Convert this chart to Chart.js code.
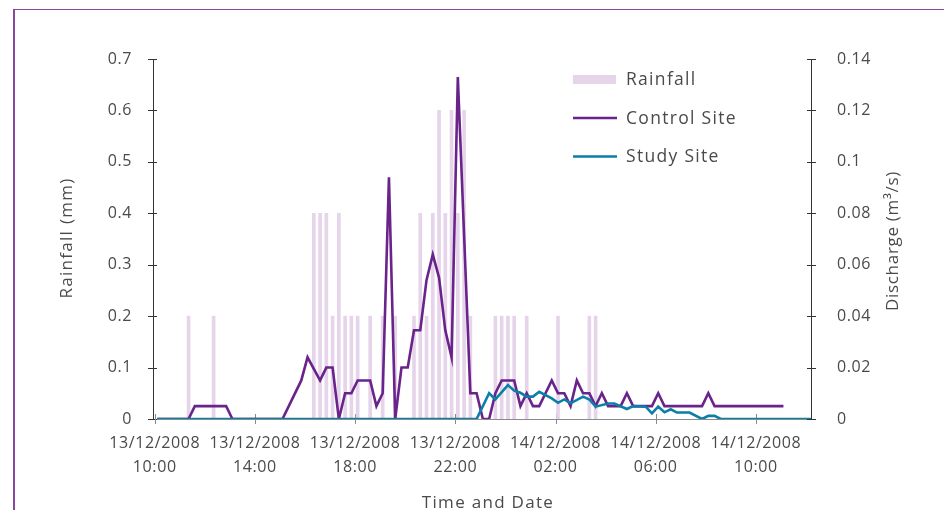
<!DOCTYPE html>
<html>
<head>
<meta charset="utf-8">
<script src="https://cdn.jsdelivr.net/npm/chart.js@4.4.1/dist/chart.umd.min.js"></script>
<style>
    html, body { margin: 0; padding: 0; background: #ffffff; }
    #wrap { position: relative; width: 944px; height: 510px; }
</style>
</head>
<body>
<div id="wrap"><canvas id="rainChart" width="944" height="510"></canvas></div>
<script>
// Times are "day hh:mm" in December 2008.
const rainTimes = ['13 11:21', '13 12:21', '13 16:21', '13 16:36', '13 16:51', '13 17:06', '13 17:21', '13 17:36',
    '13 17:51', '13 18:06', '13 18:36', '13 19:06', '13 19:36', '13 20:21', '13 20:36', '13 20:51', '13 21:06',
    '13 21:21', '13 21:36', '13 21:51', '13 22:06', '13 22:21', '13 22:36', '13 23:36', '13 23:51', '14 00:06',
    '14 00:21', '14 00:51', '14 02:06', '14 03:21', '14 03:36'];
const rainValues = [0.2, 0.2, 0.4, 0.4, 0.4, 0.2, 0.4, 0.2,
    0.2, 0.2, 0.2, 0.2, 0.2, 0.2, 0.4, 0.2, 0.4,
    0.6, 0.4, 0.6, 0.4, 0.6, 0.2, 0.2, 0.2, 0.2,
    0.2, 0.2, 0.2, 0.2, 0.2];

const controlTimes = ['13 10:06', '13 11:21', '13 11:36', '13 12:51', '13 13:06', '13 15:06', '13 15:51', '13 16:06',
    '13 16:36', '13 16:51', '13 17:06', '13 17:21', '13 17:36', '13 17:51', '13 18:06', '13 18:36', '13 18:51',
    '13 19:06', '13 19:21', '13 19:36', '13 19:51', '13 20:06', '13 20:21', '13 20:36', '13 20:51', '13 21:06',
    '13 21:21', '13 21:36', '13 21:51', '13 22:06', '13 22:36', '13 22:51', '13 23:06', '13 23:21', '13 23:36',
    '13 23:51', '14 00:21', '14 00:36', '14 00:51', '14 01:06', '14 01:21', '14 01:51', '14 02:06', '14 02:21',
    '14 02:36', '14 02:51', '14 03:06', '14 03:21', '14 03:36', '14 03:51', '14 04:06', '14 04:36', '14 04:51',
    '14 05:06', '14 05:51', '14 06:06', '14 06:21', '14 07:51', '14 08:06', '14 08:21', '14 11:06'];
const controlValues = [0, 0, 0.005, 0.005, 0, 0, 0.015, 0.024,
    0.015, 0.02, 0.02, 0, 0.01, 0.01, 0.015, 0.015, 0.005,
    0.01, 0.094, 0, 0.02, 0.02, 0.0345, 0.0345, 0.054, 0.064,
    0.055, 0.0345, 0.024, 0.133, 0.01, 0.01, 0, 0, 0.01,
    0.015, 0.015, 0.005, 0.01, 0.005, 0.005, 0.015, 0.01, 0.01,
    0.005, 0.015, 0.01, 0.01, 0.005, 0.01, 0.005, 0.005, 0.01,
    0.005, 0.005, 0.01, 0.005, 0.005, 0.01, 0.005, 0.005];

const studyTimes = ['13 10:06', '13 22:51', '13 23:21', '13 23:36', '14 00:06', '14 00:21', '14 00:36', '14 00:51',
    '14 01:06', '14 01:21', '14 01:51', '14 02:06', '14 02:21', '14 02:36', '14 03:06', '14 03:21', '14 03:36',
    '14 04:06', '14 04:21', '14 04:51', '14 05:06', '14 05:36', '14 05:51', '14 06:06', '14 06:21', '14 06:36',
    '14 06:51', '14 07:21', '14 07:51', '14 08:06', '14 08:21', '14 08:36', '14 12:12'];
const studyValues = [0, 0, 0.01, 0.0076, 0.0132, 0.011, 0.0102, 0.0087,
    0.0087, 0.0106, 0.008, 0.0063, 0.0076, 0.0061, 0.0087, 0.0076, 0.0048,
    0.006, 0.006, 0.0039, 0.005, 0.0048, 0.0022, 0.0048, 0.0026, 0.0038,
    0.0025, 0.0025, 0, 0.0012, 0.0012, 0, 0];

const xTickHours = [0, 4, 8, 12, 16, 20, 24];
const xTickDates = ['13/12/2008', '13/12/2008', '13/12/2008', '13/12/2008', '14/12/2008', '14/12/2008', '14/12/2008'];
const xTickTimes = ['10:00', '14:00', '18:00', '22:00', '02:00', '06:00', '10:00'];
const rainTicks = [0, 0.1, 0.2, 0.3, 0.4, 0.5, 0.6, 0.7];
const rainTickLabels = ['0', '0.1', '0.2', '0.3', '0.4', '0.5', '0.6', '0.7'];
const flowTicks = [0, 0.02, 0.04, 0.06, 0.08, 0.1, 0.12, 0.14];
const flowTickLabels = ['0', '0.02', '0.04', '0.06', '0.08', '0.1', '0.12', '0.14'];

const RAIN_COLOR = '#e6d4ea';
const CONTROL_COLOR = '#69238a';
const STUDY_COLOR = '#0b7fa7';
const TEXT_COLOR = '#4a4a4a';
const FONT = '"Open Sans", sans-serif';

// hours after 13/12/2008 10:00
function toHours(stamp) {
    const [day, clock] = stamp.split(' ');
    const [hh, mm] = clock.split(':').map(Number);
    return (Number(day) - 13) * 24 + hh + mm / 60 - 10;
}

function toPoints(times, values) {
    return times.map((t, i) => ({x: toHours(t), y: values[i]}));
}

const decorPlugin = {
    id: 'decor',
    beforeDraw(chart) {
        const ctx = chart.ctx;
        // the reference font is wider, spread the letters a bit
        ctx.letterSpacing = '0.6px';
        ctx.save();
        ctx.strokeStyle = '#87479d';
        ctx.lineWidth = 1.2;
        ctx.beginPath();
        ctx.moveTo(14, 9.5);
        ctx.lineTo(944, 9.5);
        ctx.stroke();
        ctx.lineWidth = 2;
        ctx.beginPath();
        ctx.moveTo(14, 9);
        ctx.lineTo(14, 510);
        ctx.stroke();
        ctx.restore();
    },
    beforeDatasetsDraw(chart) {
        // tick marks crossing the axis lines
        const ctx = chart.ctx;
        const {x, y, y1} = chart.scales;
        ctx.save();
        ctx.lineWidth = 1;
        ctx.strokeStyle = '#333333';
        ctx.beginPath();
        rainTicks.forEach(v => {
            const p = Math.round(y.getPixelForValue(v)) + 0.5;
            ctx.moveTo(y.right - 5, p);
            ctx.lineTo(y.right + 4, p);
        });
        flowTicks.forEach(v => {
            const p = Math.round(y1.getPixelForValue(v)) + 0.5;
            ctx.moveTo(y1.left - 4, p);
            ctx.lineTo(y1.left + 5, p);
        });
        ctx.stroke();
        ctx.strokeStyle = '#8a8a8a';
        ctx.beginPath();
        xTickHours.forEach(v => {
            const p = Math.round(x.getPixelForValue(v)) + 0.5;
            ctx.moveTo(p, x.top - 5);
            ctx.lineTo(p, x.top + 5);
        });
        ctx.stroke();
        ctx.restore();
    },
    afterDraw(chart) {
        const ctx = chart.ctx;
        const area = chart.chartArea;
        ctx.save();
        ctx.letterSpacing = '1.3px';
        ctx.fillStyle = TEXT_COLOR;
        ctx.font = '17px ' + FONT;
        ctx.textAlign = 'center';
        ctx.textBaseline = 'middle';

        // axis titles
        ctx.fillText('Time and Date', 488, 503);
        ctx.save();
        ctx.translate(67, (area.top + area.bottom) / 2 - 1);
        ctx.rotate(-Math.PI / 2);
        ctx.fillText('Rainfall (mm)', 0, 0);
        ctx.restore();
        ctx.save();
        ctx.letterSpacing = '0.7px';
        ctx.translate(893, 241);
        ctx.rotate(-Math.PI / 2);
        ctx.fillText('Discharge (m\u00b3/s)', 0, 0);
        ctx.restore();

        // legend
        const lx = 573;
        const items = [
            {label: 'Rainfall', y: 79.5, color: RAIN_COLOR, box: true},
            {label: 'Control Site', y: 118, color: CONTROL_COLOR},
            {label: 'Study Site', y: 156.5, color: STUDY_COLOR}
        ];
        ctx.textAlign = 'left';
        ctx.font = '17.5px ' + FONT;
        items.forEach(item => {
            if (item.box) {
                ctx.fillStyle = item.color;
                ctx.fillRect(lx, item.y - 4.5, 43, 9);
            } else {
                ctx.strokeStyle = item.color;
                ctx.lineWidth = 2.7;
                ctx.beginPath();
                ctx.moveTo(lx, item.y);
                ctx.lineTo(lx + 44, item.y);
                ctx.stroke();
            }
            ctx.fillStyle = TEXT_COLOR;
            ctx.fillText(item.label, lx + 53, item.y + 1);
        });
        ctx.restore();
    }
};

Chart.defaults.font.family = FONT;
Chart.defaults.font.size = 16;
Chart.defaults.color = TEXT_COLOR;

const ctx = document.getElementById('rainChart').getContext('2d');

new Chart(ctx, {
    type: 'line',
    data: {
        datasets: [
            {
                label: 'Study Site',
                type: 'line',
                data: toPoints(studyTimes, studyValues),
                yAxisID: 'y1',
                borderColor: STUDY_COLOR,
                borderWidth: 2.6,
                pointRadius: 0,
                tension: 0,
                order: 0
            },
            {
                label: 'Control Site',
                type: 'line',
                data: toPoints(controlTimes, controlValues),
                yAxisID: 'y1',
                borderColor: CONTROL_COLOR,
                borderWidth: 2.6,
                pointRadius: 0,
                tension: 0,
                order: 1
            },
            {
                label: 'Rainfall',
                type: 'bar',
                data: toPoints(rainTimes, rainValues),
                yAxisID: 'y',
                backgroundColor: RAIN_COLOR,
                barThickness: 3,
                order: 2
            }
        ]
    },
    options: {
        responsive: false,
        animation: false,
        events: [],
        layout: {
            padding: {top: 59, left: 0, right: 0, bottom: 0}
        },
        plugins: {
            legend: {display: false},
            tooltip: {enabled: false}
        },
        scales: {
            x: {
                type: 'linear',
                min: -0.07,
                max: 26.2,
                offset: false,
                grid: {display: false, offset: false},
                border: {display: true, color: '#8a8a8a', width: 1},
                afterBuildTicks: s => { s.ticks = xTickHours.map(v => ({value: v})); },
                afterFit: s => { s.height = 91; },
                ticks: {
                    autoSkip: false,
                    maxRotation: 0,
                    padding: 4,
                    font: {size: 16, lineHeight: 1.5},
                    callback: (v, i) => [xTickDates[i], xTickTimes[i]]
                }
            },
            y: {
                position: 'left',
                min: 0,
                max: 0.7,
                grid: {display: false},
                border: {display: true, color: '#333333', width: 1},
                afterBuildTicks: s => { s.ticks = rainTicks.map(v => ({value: v})); },
                afterFit: s => { s.width = 153; },
                ticks: {
                    padding: 13,
                    callback: (v, i) => rainTickLabels[i]
                }
            },
            y1: {
                position: 'right',
                min: 0,
                max: 0.14,
                grid: {display: false},
                border: {display: true, color: '#333333', width: 1},
                afterBuildTicks: s => { s.ticks = flowTicks.map(v => ({value: v})); },
                afterFit: s => { s.width = 133; },
                ticks: {
                    padding: 18,
                    callback: (v, i) => flowTickLabels[i]
                }
            }
        }
    },
    plugins: [decorPlugin]
});
</script>
</body>
</html>
